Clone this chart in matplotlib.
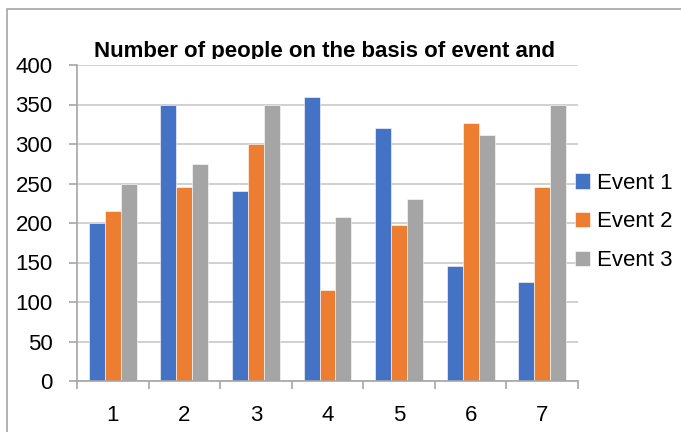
import matplotlib
matplotlib.use('Agg')
import matplotlib.pyplot as plt
import numpy as np
from matplotlib.patches import Rectangle

categories = ['1', '2', '3', '4', '5', '6', '7']
event1 = [200, 350, 240, 360, 320, 145, 125]
event2 = [215, 245, 300, 115, 197, 326, 245]
event3 = [250, 275, 350, 207, 230, 311, 350]
series_names = ['Event 1', 'Event 2', 'Event 3']
colours = ['#4472C4', '#ED7D31', '#A5A5A5']
yticks = [0, 50, 100, 150, 200, 250, 300, 350, 400]

plt.rcParams['font.family'] = ['Liberation Sans', 'DejaVu Sans']

W, H = 681, 432
fig = plt.figure(figsize=(W / 100, H / 100), dpi=100)
ax = fig.add_axes([77 / W, (H - 381) / H, 501 / W, 316 / H])

x = np.arange(1, len(categories) + 1)
bw = 0.223
for i, (vals, name, col) in enumerate(zip([event1, event2, event3], series_names, colours)):
    ax.bar(x + (i - 1) * bw, vals, width=bw, color=col, label=name,
           edgecolor='white', linewidth=0.4, zorder=3)

ax.set_xlim(0.5, len(categories) + 0.5)
ax.set_ylim(0, 400)
ax.set_yticks(yticks)
ax.set_xticks(x)
ax.set_xticklabels(categories)
ax.set_xticks(np.arange(0.5, len(categories) + 1, 1), minor=True)

grid_col = '#C8C8C8'
axis_col = '#A6A6A6'
ax.yaxis.grid(True, color=grid_col, linewidth=1.2, zorder=0)
for s in ['right', 'top']:
    ax.spines[s].set_visible(False)
for s in ['left', 'bottom']:
    ax.spines[s].set_color(axis_col)
    ax.spines[s].set_linewidth(1.2)
    ax.spines[s].set_zorder(4)

ax.tick_params(axis='y', length=6, width=1.2, color=axis_col, pad=11.5, labelsize=16)
ax.tick_params(axis='x', which='major', length=0, pad=17, labelsize=16)
ax.tick_params(axis='x', which='minor', length=6, width=1.2, color=axis_col)

fig.text(0.4765, (H - 57) / H, 'Number of people on the basis of event and',
         ha='center', va='baseline', fontsize=16, fontweight='bold')
# the plot area cuts off the bottom of the title, as in the original
fig.patches.append(Rectangle((80 / W, (H - 63) / H), 500 / W, 4 / H,
                             transform=fig.transFigure, facecolor='white',
                             edgecolor='none', zorder=5))

ax.legend(loc='center left', bbox_to_anchor=(575 / W, (H - 222) / H),
          bbox_transform=fig.transFigure, frameon=False, fontsize=16,
          borderaxespad=0, borderpad=0, handlelength=0.68, handleheight=0.68,
          handletextpad=0.32, labelspacing=0.8)

fig.patches.append(Rectangle((7 / W, -0.1), 1.2, (H - 9) / H + 0.1,
                             transform=fig.transFigure, fill=False,
                             edgecolor='#A6A6A6', linewidth=1.2))

fig.savefig('out.png', dpi=100)
